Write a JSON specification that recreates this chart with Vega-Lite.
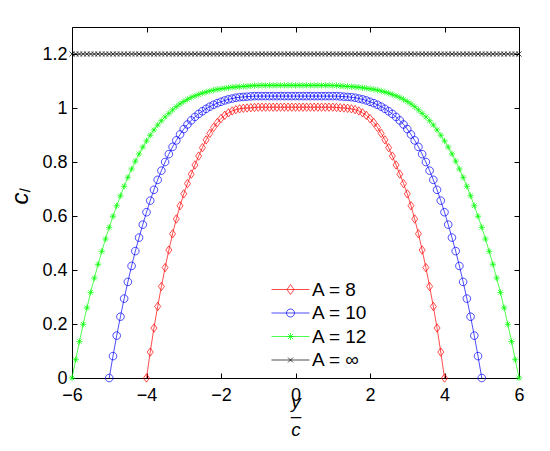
{
  "$schema": "https://vega.github.io/schema/vega-lite/v6.json",
  "width": 447,
  "height": 351,
  "autosize": "none",
  "padding": {"left": 72, "top": 27, "right": 31, "bottom": 73},
  "background": "white",
  "config": {"view": {"stroke": null}, "font": "Liberation Sans"},
  "data": {"values": [
    {"a":"8","x":-4,"y":0},{"a":"8","x":-3.9,"y":0.096},{"a":"8","x":-3.8,"y":0.185},{"a":"8","x":-3.7,"y":0.265},{"a":"8","x":-3.6,"y":0.339},
    {"a":"8","x":-3.5,"y":0.409},{"a":"8","x":-3.4,"y":0.474},{"a":"8","x":-3.3,"y":0.534},{"a":"8","x":-3.2,"y":0.589},{"a":"8","x":-3.1,"y":0.638},
    {"a":"8","x":-3,"y":0.682},{"a":"8","x":-2.9,"y":0.72},{"a":"8","x":-2.8,"y":0.755},{"a":"8","x":-2.7,"y":0.789},{"a":"8","x":-2.6,"y":0.822},
    {"a":"8","x":-2.5,"y":0.853},{"a":"8","x":-2.4,"y":0.882},{"a":"8","x":-2.3,"y":0.906},{"a":"8","x":-2.2,"y":0.928},{"a":"8","x":-2.1,"y":0.946},
    {"a":"8","x":-2,"y":0.961},{"a":"8","x":-1.9,"y":0.973},{"a":"8","x":-1.8,"y":0.982},{"a":"8","x":-1.7,"y":0.989},{"a":"8","x":-1.6,"y":0.994},
    {"a":"8","x":-1.5,"y":0.997},{"a":"8","x":-1.4,"y":0.999},{"a":"8","x":-1.3,"y":1},{"a":"8","x":-1.2,"y":1.001},{"a":"8","x":-1.1,"y":1.002},
    {"a":"8","x":-1,"y":1.003},{"a":"8","x":-0.9,"y":1.003},{"a":"8","x":-0.8,"y":1.003},{"a":"8","x":-0.7,"y":1.003},{"a":"8","x":-0.6,"y":1.003},
    {"a":"8","x":-0.5,"y":1.003},{"a":"8","x":-0.4,"y":1.003},{"a":"8","x":-0.3,"y":1.003},{"a":"8","x":-0.2,"y":1.003},{"a":"8","x":-0.1,"y":1.003},
    {"a":"8","x":0,"y":1.003},{"a":"8","x":0.1,"y":1.003},{"a":"8","x":0.2,"y":1.003},{"a":"8","x":0.3,"y":1.003},{"a":"8","x":0.4,"y":1.003},
    {"a":"8","x":0.5,"y":1.003},{"a":"8","x":0.6,"y":1.003},{"a":"8","x":0.7,"y":1.003},{"a":"8","x":0.8,"y":1.003},{"a":"8","x":0.9,"y":1.003},
    {"a":"8","x":1,"y":1.003},{"a":"8","x":1.1,"y":1.002},{"a":"8","x":1.2,"y":1.001},{"a":"8","x":1.3,"y":1},{"a":"8","x":1.4,"y":0.999},
    {"a":"8","x":1.5,"y":0.997},{"a":"8","x":1.6,"y":0.994},{"a":"8","x":1.7,"y":0.989},{"a":"8","x":1.8,"y":0.982},{"a":"8","x":1.9,"y":0.973},
    {"a":"8","x":2,"y":0.961},{"a":"8","x":2.1,"y":0.946},{"a":"8","x":2.2,"y":0.928},{"a":"8","x":2.3,"y":0.906},{"a":"8","x":2.4,"y":0.882},
    {"a":"8","x":2.5,"y":0.853},{"a":"8","x":2.6,"y":0.822},{"a":"8","x":2.7,"y":0.789},{"a":"8","x":2.8,"y":0.755},{"a":"8","x":2.9,"y":0.72},
    {"a":"8","x":3,"y":0.682},{"a":"8","x":3.1,"y":0.638},{"a":"8","x":3.2,"y":0.589},{"a":"8","x":3.3,"y":0.534},{"a":"8","x":3.4,"y":0.474},
    {"a":"8","x":3.5,"y":0.409},{"a":"8","x":3.6,"y":0.339},{"a":"8","x":3.7,"y":0.265},{"a":"8","x":3.8,"y":0.185},{"a":"8","x":3.9,"y":0.096},
    {"a":"8","x":4,"y":0},

    {"a":"10","x":-5,"y":0},{"a":"10","x":-4.9,"y":0.081},{"a":"10","x":-4.8,"y":0.157},{"a":"10","x":-4.7,"y":0.227},{"a":"10","x":-4.6,"y":0.294},
    {"a":"10","x":-4.5,"y":0.356},{"a":"10","x":-4.4,"y":0.415},{"a":"10","x":-4.3,"y":0.47},{"a":"10","x":-4.2,"y":0.52},{"a":"10","x":-4.1,"y":0.568},
    {"a":"10","x":-4,"y":0.614},{"a":"10","x":-3.9,"y":0.657},{"a":"10","x":-3.8,"y":0.697},{"a":"10","x":-3.7,"y":0.734},{"a":"10","x":-3.6,"y":0.768},
    {"a":"10","x":-3.5,"y":0.8},{"a":"10","x":-3.4,"y":0.829},{"a":"10","x":-3.3,"y":0.856},{"a":"10","x":-3.2,"y":0.88},{"a":"10","x":-3.1,"y":0.902},
    {"a":"10","x":-3,"y":0.922},{"a":"10","x":-2.9,"y":0.939},{"a":"10","x":-2.8,"y":0.954},{"a":"10","x":-2.7,"y":0.967},{"a":"10","x":-2.6,"y":0.978},
    {"a":"10","x":-2.5,"y":0.988},{"a":"10","x":-2.4,"y":0.997},{"a":"10","x":-2.3,"y":1.005},{"a":"10","x":-2.2,"y":1.012},{"a":"10","x":-2.1,"y":1.018},
    {"a":"10","x":-2,"y":1.023},{"a":"10","x":-1.9,"y":1.028},{"a":"10","x":-1.8,"y":1.032},{"a":"10","x":-1.7,"y":1.035},{"a":"10","x":-1.6,"y":1.038},
    {"a":"10","x":-1.5,"y":1.04},{"a":"10","x":-1.4,"y":1.041},{"a":"10","x":-1.3,"y":1.042},{"a":"10","x":-1.2,"y":1.043},{"a":"10","x":-1.1,"y":1.044},
    {"a":"10","x":-1,"y":1.044},{"a":"10","x":-0.9,"y":1.044},{"a":"10","x":-0.8,"y":1.044},{"a":"10","x":-0.7,"y":1.044},{"a":"10","x":-0.6,"y":1.044},
    {"a":"10","x":-0.5,"y":1.044},{"a":"10","x":-0.4,"y":1.044},{"a":"10","x":-0.3,"y":1.044},{"a":"10","x":-0.2,"y":1.044},{"a":"10","x":-0.1,"y":1.044},
    {"a":"10","x":0,"y":1.044},{"a":"10","x":0.1,"y":1.044},{"a":"10","x":0.2,"y":1.044},{"a":"10","x":0.3,"y":1.044},{"a":"10","x":0.4,"y":1.044},
    {"a":"10","x":0.5,"y":1.044},{"a":"10","x":0.6,"y":1.044},{"a":"10","x":0.7,"y":1.044},{"a":"10","x":0.8,"y":1.044},{"a":"10","x":0.9,"y":1.044},
    {"a":"10","x":1,"y":1.044},{"a":"10","x":1.1,"y":1.044},{"a":"10","x":1.2,"y":1.043},{"a":"10","x":1.3,"y":1.042},{"a":"10","x":1.4,"y":1.041},
    {"a":"10","x":1.5,"y":1.04},{"a":"10","x":1.6,"y":1.038},{"a":"10","x":1.7,"y":1.035},{"a":"10","x":1.8,"y":1.032},{"a":"10","x":1.9,"y":1.028},
    {"a":"10","x":2,"y":1.023},{"a":"10","x":2.1,"y":1.018},{"a":"10","x":2.2,"y":1.012},{"a":"10","x":2.3,"y":1.005},{"a":"10","x":2.4,"y":0.997},
    {"a":"10","x":2.5,"y":0.988},{"a":"10","x":2.6,"y":0.978},{"a":"10","x":2.7,"y":0.967},{"a":"10","x":2.8,"y":0.954},{"a":"10","x":2.9,"y":0.939},
    {"a":"10","x":3,"y":0.922},{"a":"10","x":3.1,"y":0.902},{"a":"10","x":3.2,"y":0.88},{"a":"10","x":3.3,"y":0.856},{"a":"10","x":3.4,"y":0.829},
    {"a":"10","x":3.5,"y":0.8},{"a":"10","x":3.6,"y":0.768},{"a":"10","x":3.7,"y":0.734},{"a":"10","x":3.8,"y":0.697},{"a":"10","x":3.9,"y":0.657},
    {"a":"10","x":4,"y":0.614},{"a":"10","x":4.1,"y":0.568},{"a":"10","x":4.2,"y":0.52},{"a":"10","x":4.3,"y":0.47},{"a":"10","x":4.4,"y":0.415},
    {"a":"10","x":4.5,"y":0.356},{"a":"10","x":4.6,"y":0.294},{"a":"10","x":4.7,"y":0.227},{"a":"10","x":4.8,"y":0.157},{"a":"10","x":4.9,"y":0.081},
    {"a":"10","x":5,"y":0},

    {"a":"12","x":-6,"y":0},{"a":"12","x":-5.9,"y":0.068},{"a":"12","x":-5.8,"y":0.135},{"a":"12","x":-5.7,"y":0.199},{"a":"12","x":-5.6,"y":0.26},
    {"a":"12","x":-5.5,"y":0.317},{"a":"12","x":-5.4,"y":0.37},{"a":"12","x":-5.3,"y":0.421},{"a":"12","x":-5.2,"y":0.469},{"a":"12","x":-5.1,"y":0.515},
    {"a":"12","x":-5,"y":0.558},{"a":"12","x":-4.9,"y":0.599},{"a":"12","x":-4.8,"y":0.638},{"a":"12","x":-4.7,"y":0.675},{"a":"12","x":-4.6,"y":0.71},
    {"a":"12","x":-4.5,"y":0.743},{"a":"12","x":-4.4,"y":0.774},{"a":"12","x":-4.3,"y":0.803},{"a":"12","x":-4.2,"y":0.83},{"a":"12","x":-4.1,"y":0.855},
    {"a":"12","x":-4,"y":0.878},{"a":"12","x":-3.9,"y":0.899},{"a":"12","x":-3.8,"y":0.919},{"a":"12","x":-3.7,"y":0.937},{"a":"12","x":-3.6,"y":0.953},
    {"a":"12","x":-3.5,"y":0.967},{"a":"12","x":-3.4,"y":0.98},{"a":"12","x":-3.3,"y":0.993},{"a":"12","x":-3.2,"y":1.005},{"a":"12","x":-3.1,"y":1.015},
    {"a":"12","x":-3,"y":1.024},{"a":"12","x":-2.9,"y":1.032},{"a":"12","x":-2.8,"y":1.039},{"a":"12","x":-2.7,"y":1.045},{"a":"12","x":-2.6,"y":1.05},
    {"a":"12","x":-2.5,"y":1.055},{"a":"12","x":-2.4,"y":1.059},{"a":"12","x":-2.3,"y":1.063},{"a":"12","x":-2.2,"y":1.066},{"a":"12","x":-2.1,"y":1.069},
    {"a":"12","x":-2,"y":1.071},{"a":"12","x":-1.9,"y":1.073},{"a":"12","x":-1.8,"y":1.075},{"a":"12","x":-1.7,"y":1.077},{"a":"12","x":-1.6,"y":1.078},
    {"a":"12","x":-1.5,"y":1.079},{"a":"12","x":-1.4,"y":1.08},{"a":"12","x":-1.3,"y":1.081},{"a":"12","x":-1.2,"y":1.082},{"a":"12","x":-1.1,"y":1.083},
    {"a":"12","x":-1,"y":1.083},{"a":"12","x":-0.9,"y":1.084},{"a":"12","x":-0.8,"y":1.084},{"a":"12","x":-0.7,"y":1.084},{"a":"12","x":-0.6,"y":1.084},
    {"a":"12","x":-0.5,"y":1.084},{"a":"12","x":-0.4,"y":1.084},{"a":"12","x":-0.3,"y":1.084},{"a":"12","x":-0.2,"y":1.084},{"a":"12","x":-0.1,"y":1.084},
    {"a":"12","x":0,"y":1.084},{"a":"12","x":0.1,"y":1.084},{"a":"12","x":0.2,"y":1.084},{"a":"12","x":0.3,"y":1.084},{"a":"12","x":0.4,"y":1.084},
    {"a":"12","x":0.5,"y":1.084},{"a":"12","x":0.6,"y":1.084},{"a":"12","x":0.7,"y":1.084},{"a":"12","x":0.8,"y":1.084},{"a":"12","x":0.9,"y":1.084},
    {"a":"12","x":1,"y":1.083},{"a":"12","x":1.1,"y":1.083},{"a":"12","x":1.2,"y":1.082},{"a":"12","x":1.3,"y":1.081},{"a":"12","x":1.4,"y":1.08},
    {"a":"12","x":1.5,"y":1.079},{"a":"12","x":1.6,"y":1.078},{"a":"12","x":1.7,"y":1.077},{"a":"12","x":1.8,"y":1.075},{"a":"12","x":1.9,"y":1.073},
    {"a":"12","x":2,"y":1.071},{"a":"12","x":2.1,"y":1.069},{"a":"12","x":2.2,"y":1.066},{"a":"12","x":2.3,"y":1.063},{"a":"12","x":2.4,"y":1.059},
    {"a":"12","x":2.5,"y":1.055},{"a":"12","x":2.6,"y":1.05},{"a":"12","x":2.7,"y":1.045},{"a":"12","x":2.8,"y":1.039},{"a":"12","x":2.9,"y":1.032},
    {"a":"12","x":3,"y":1.024},{"a":"12","x":3.1,"y":1.015},{"a":"12","x":3.2,"y":1.005},{"a":"12","x":3.3,"y":0.993},{"a":"12","x":3.4,"y":0.98},
    {"a":"12","x":3.5,"y":0.967},{"a":"12","x":3.6,"y":0.953},{"a":"12","x":3.7,"y":0.937},{"a":"12","x":3.8,"y":0.919},{"a":"12","x":3.9,"y":0.899},
    {"a":"12","x":4,"y":0.878},{"a":"12","x":4.1,"y":0.855},{"a":"12","x":4.2,"y":0.83},{"a":"12","x":4.3,"y":0.803},{"a":"12","x":4.4,"y":0.774},
    {"a":"12","x":4.5,"y":0.743},{"a":"12","x":4.6,"y":0.71},{"a":"12","x":4.7,"y":0.675},{"a":"12","x":4.8,"y":0.638},{"a":"12","x":4.9,"y":0.599},
    {"a":"12","x":5,"y":0.558},{"a":"12","x":5.1,"y":0.515},{"a":"12","x":5.2,"y":0.469},{"a":"12","x":5.3,"y":0.421},{"a":"12","x":5.4,"y":0.37},
    {"a":"12","x":5.5,"y":0.317},{"a":"12","x":5.6,"y":0.26},{"a":"12","x":5.7,"y":0.199},{"a":"12","x":5.8,"y":0.135},{"a":"12","x":5.9,"y":0.068},
    {"a":"12","x":6,"y":0},

    {"a":"inf","x":-6,"y":1.2},{"a":"inf","x":-5.9,"y":1.2},{"a":"inf","x":-5.8,"y":1.2},{"a":"inf","x":-5.7,"y":1.2},{"a":"inf","x":-5.6,"y":1.2},
    {"a":"inf","x":-5.5,"y":1.2},{"a":"inf","x":-5.4,"y":1.2},{"a":"inf","x":-5.3,"y":1.2},{"a":"inf","x":-5.2,"y":1.2},{"a":"inf","x":-5.1,"y":1.2},
    {"a":"inf","x":-5,"y":1.2},{"a":"inf","x":-4.9,"y":1.2},{"a":"inf","x":-4.8,"y":1.2},{"a":"inf","x":-4.7,"y":1.2},{"a":"inf","x":-4.6,"y":1.2},
    {"a":"inf","x":-4.5,"y":1.2},{"a":"inf","x":-4.4,"y":1.2},{"a":"inf","x":-4.3,"y":1.2},{"a":"inf","x":-4.2,"y":1.2},{"a":"inf","x":-4.1,"y":1.2},
    {"a":"inf","x":-4,"y":1.2},{"a":"inf","x":-3.9,"y":1.2},{"a":"inf","x":-3.8,"y":1.2},{"a":"inf","x":-3.7,"y":1.2},{"a":"inf","x":-3.6,"y":1.2},
    {"a":"inf","x":-3.5,"y":1.2},{"a":"inf","x":-3.4,"y":1.2},{"a":"inf","x":-3.3,"y":1.2},{"a":"inf","x":-3.2,"y":1.2},{"a":"inf","x":-3.1,"y":1.2},
    {"a":"inf","x":-3,"y":1.2},{"a":"inf","x":-2.9,"y":1.2},{"a":"inf","x":-2.8,"y":1.2},{"a":"inf","x":-2.7,"y":1.2},{"a":"inf","x":-2.6,"y":1.2},
    {"a":"inf","x":-2.5,"y":1.2},{"a":"inf","x":-2.4,"y":1.2},{"a":"inf","x":-2.3,"y":1.2},{"a":"inf","x":-2.2,"y":1.2},{"a":"inf","x":-2.1,"y":1.2},
    {"a":"inf","x":-2,"y":1.2},{"a":"inf","x":-1.9,"y":1.2},{"a":"inf","x":-1.8,"y":1.2},{"a":"inf","x":-1.7,"y":1.2},{"a":"inf","x":-1.6,"y":1.2},
    {"a":"inf","x":-1.5,"y":1.2},{"a":"inf","x":-1.4,"y":1.2},{"a":"inf","x":-1.3,"y":1.2},{"a":"inf","x":-1.2,"y":1.2},{"a":"inf","x":-1.1,"y":1.2},
    {"a":"inf","x":-1,"y":1.2},{"a":"inf","x":-0.9,"y":1.2},{"a":"inf","x":-0.8,"y":1.2},{"a":"inf","x":-0.7,"y":1.2},{"a":"inf","x":-0.6,"y":1.2},
    {"a":"inf","x":-0.5,"y":1.2},{"a":"inf","x":-0.4,"y":1.2},{"a":"inf","x":-0.3,"y":1.2},{"a":"inf","x":-0.2,"y":1.2},{"a":"inf","x":-0.1,"y":1.2},
    {"a":"inf","x":0,"y":1.2},{"a":"inf","x":0.1,"y":1.2},{"a":"inf","x":0.2,"y":1.2},{"a":"inf","x":0.3,"y":1.2},{"a":"inf","x":0.4,"y":1.2},
    {"a":"inf","x":0.5,"y":1.2},{"a":"inf","x":0.6,"y":1.2},{"a":"inf","x":0.7,"y":1.2},{"a":"inf","x":0.8,"y":1.2},{"a":"inf","x":0.9,"y":1.2},
    {"a":"inf","x":1,"y":1.2},{"a":"inf","x":1.1,"y":1.2},{"a":"inf","x":1.2,"y":1.2},{"a":"inf","x":1.3,"y":1.2},{"a":"inf","x":1.4,"y":1.2},
    {"a":"inf","x":1.5,"y":1.2},{"a":"inf","x":1.6,"y":1.2},{"a":"inf","x":1.7,"y":1.2},{"a":"inf","x":1.8,"y":1.2},{"a":"inf","x":1.9,"y":1.2},
    {"a":"inf","x":2,"y":1.2},{"a":"inf","x":2.1,"y":1.2},{"a":"inf","x":2.2,"y":1.2},{"a":"inf","x":2.3,"y":1.2},{"a":"inf","x":2.4,"y":1.2},
    {"a":"inf","x":2.5,"y":1.2},{"a":"inf","x":2.6,"y":1.2},{"a":"inf","x":2.7,"y":1.2},{"a":"inf","x":2.8,"y":1.2},{"a":"inf","x":2.9,"y":1.2},
    {"a":"inf","x":3,"y":1.2},{"a":"inf","x":3.1,"y":1.2},{"a":"inf","x":3.2,"y":1.2},{"a":"inf","x":3.3,"y":1.2},{"a":"inf","x":3.4,"y":1.2},
    {"a":"inf","x":3.5,"y":1.2},{"a":"inf","x":3.6,"y":1.2},{"a":"inf","x":3.7,"y":1.2},{"a":"inf","x":3.8,"y":1.2},{"a":"inf","x":3.9,"y":1.2},
    {"a":"inf","x":4,"y":1.2},{"a":"inf","x":4.1,"y":1.2},{"a":"inf","x":4.2,"y":1.2},{"a":"inf","x":4.3,"y":1.2},{"a":"inf","x":4.4,"y":1.2},
    {"a":"inf","x":4.5,"y":1.2},{"a":"inf","x":4.6,"y":1.2},{"a":"inf","x":4.7,"y":1.2},{"a":"inf","x":4.8,"y":1.2},{"a":"inf","x":4.9,"y":1.2},
    {"a":"inf","x":5,"y":1.2},{"a":"inf","x":5.1,"y":1.2},{"a":"inf","x":5.2,"y":1.2},{"a":"inf","x":5.3,"y":1.2},{"a":"inf","x":5.4,"y":1.2},
    {"a":"inf","x":5.5,"y":1.2},{"a":"inf","x":5.6,"y":1.2},{"a":"inf","x":5.7,"y":1.2},{"a":"inf","x":5.8,"y":1.2},{"a":"inf","x":5.9,"y":1.2},
    {"a":"inf","x":6,"y":1.2}
  ]},
  "layer": [
    {
      "mark": {"type": "line", "strokeWidth": 0.7},
      "encoding": {
        "x": {
          "field": "x", "type": "quantitative",
          "scale": {"domain": [-6, 6], "nice": false, "zero": false},
          "axis": {
            "orient": "bottom", "values": [-6, -4, -2, 0, 2, 4, 6], "format": "d",
            "grid": false, "tickSize": -5, "tickColor": "#000", "domainColor": "#000", "domainWidth": 1,
            "labelFontSize": 18, "labelColor": "#000", "labelPadding": 13, "labelFlush": false, "labelOverlap": false,
            "title": ["y", "–", "c"], "titleFont": "Liberation Sans", "titleFontStyle": "italic", "titleFontWeight": "normal",
            "titleFontSize": 19, "titleLineHeight": 14, "titleBaseline": "alphabetic", "titleY": 29, "titleColor": "#000"
          }
        },
        "y": {
          "field": "y", "type": "quantitative",
          "scale": {"domain": [0, 1.3], "nice": false},
          "axis": {
            "orient": "left", "values": [0, 0.2, 0.4, 0.6, 0.8, 1, 1.2], "format": ".1~f",
            "grid": false, "tickSize": -5, "tickColor": "#000", "domainColor": "#000", "domainWidth": 1,
            "labelFontSize": 18, "labelColor": "#000", "labelPadding": 10, "labelFlush": false, "labelOverlap": false,
            "title": "cₗ", "titleFontStyle": "italic", "titleFontWeight": "normal", "titleFontSize": 24,
            "titleBaseline": "alphabetic", "titleAlign": "center", "titleX": -45, "titleY": 169, "titleColor": "#000"
          }
        },
        "color": {
          "field": "a", "type": "nominal",
          "scale": {"domain": ["8", "10", "12", "inf"], "range": ["#ff0000", "#0000ff", "#00ff00", "#000000"]},
          "legend": null
        }
      }
    },
    {
      "mark": {"type": "point", "filled": false, "opacity": 1, "size": 64, "strokeWidth": 0.7},
      "encoding": {
        "x": {
          "field": "x", "type": "quantitative",
          "axis": {"orient": "top", "values": [-6, -4, -2, 0, 2, 4, 6], "labels": false, "title": null,
                   "grid": false, "tickSize": -5, "tickColor": "#000", "domainColor": "#000", "domainWidth": 1}
        },
        "y": {
          "field": "y", "type": "quantitative",
          "axis": {"orient": "right", "values": [0, 0.2, 0.4, 0.6, 0.8, 1, 1.2], "labels": false, "title": null,
                   "grid": false, "tickSize": -5, "tickColor": "#000", "domainColor": "#000", "domainWidth": 1}
        },
        "color": {
          "field": "a", "type": "nominal",
          "scale": {"domain": ["8", "10", "12", "inf"], "range": ["#ff0000", "#0000ff", "#00ff00", "#000000"]},
          "legend": null
        },
        "shape": {
          "field": "a", "type": "nominal",
          "scale": {
            "domain": ["8", "10", "12", "inf"],
            "range": [
              "M0,-1.05L0.75,0L0,1.05L-0.75,0Z",
              "M0.95,0A0.95,0.95,0,1,1,-0.95,0A0.95,0.95,0,1,1,0.95,0Z",
              "M-0.8,0H0.8M0,-0.8V0.8M-0.57,-0.57L0.57,0.57M-0.57,0.57L0.57,-0.57",
              "M-0.65,-0.65L0.65,0.65M-0.65,0.65L0.65,-0.65"
            ]
          },
          "legend": null
        }
      }
    },
    {
      "transform": [{"filter": "false"}],
      "mark": {"type": "point", "filled": false, "opacity": 1, "size": 100, "strokeWidth": 0.7},
      "encoding": {
        "color": {
          "field": "a", "type": "nominal",
          "scale": {"domain": ["8", "10", "12", "inf"], "range": ["#ff0000", "#0000ff", "#00ff00", "#000000"]},
          "legend": {
            "title": null, "orient": "none", "legendX": 209, "legendY": 253, "padding": 0,
            "rowPadding": 3.5, "labelOffset": 12, "symbolSize": 100, "symbolStrokeWidth": 0.7,
            "labelFontSize": 19, "labelColor": "#000",
            "labelExpr": "'A = ' + (datum.value == 'inf' ? '∞' : datum.value)"
          }
        },
        "shape": {
          "field": "a", "type": "nominal",
          "scale": {
            "domain": ["8", "10", "12", "inf"],
            "range": [
              "M-3.8,0H3.8M0,-1L0.7,0L0,1L-0.7,0Z",
              "M-3.8,0H3.8M0.8,0A0.8,0.8,0,1,1,-0.8,0A0.8,0.8,0,1,1,0.8,0Z",
              "M-3.8,0H3.8M-0.7,0H0.7M0,-0.7V0.7M-0.5,-0.5L0.5,0.5M-0.5,0.5L0.5,-0.5",
              "M-3.8,0H3.8M-0.5,-0.5L0.5,0.5M-0.5,0.5L0.5,-0.5"
            ]
          },
          "legend": {
            "title": null, "orient": "none", "legendX": 209, "legendY": 253, "padding": 0,
            "rowPadding": 3.5, "labelOffset": 12, "symbolSize": 100, "symbolStrokeWidth": 0.7,
            "labelFontSize": 19, "labelColor": "#000",
            "labelExpr": "'A = ' + (datum.value == 'inf' ? '∞' : datum.value)"
          }
        }
      }
    }
  ],
  "resolve": {
    "scale": {"color": "independent", "shape": "independent"},
    "axis": {"x": "independent", "y": "independent"}
  }
}
